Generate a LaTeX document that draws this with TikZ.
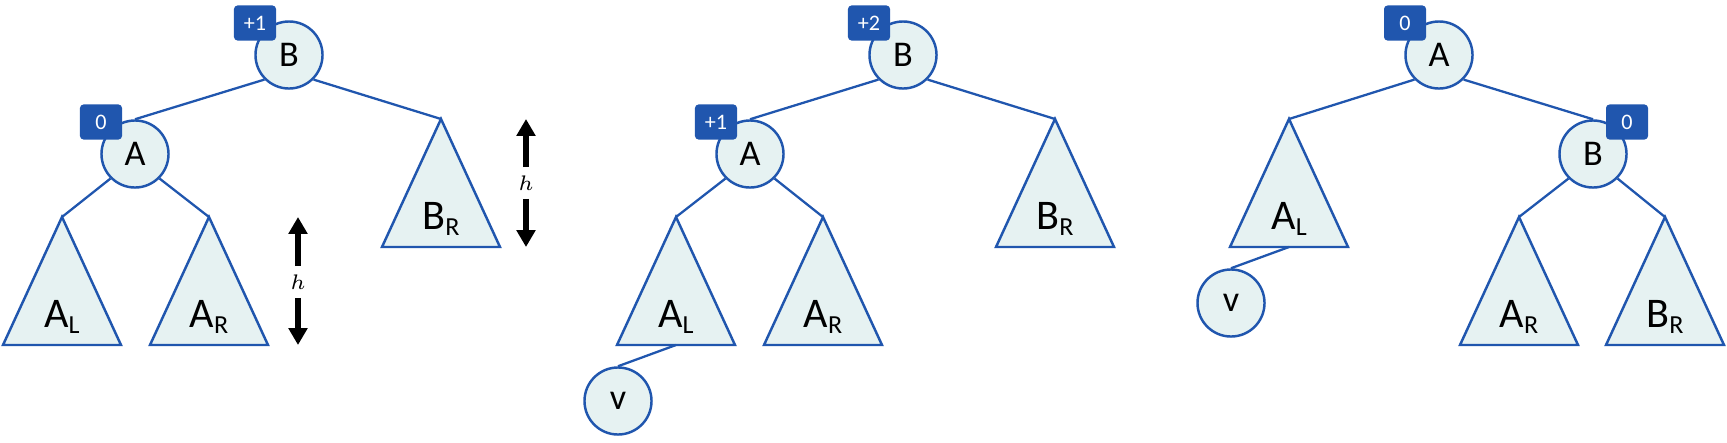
\documentclass[tikz,border=0pt]{standalone}
\usepackage{fontspec}
\setmainfont{Carlito}
\usetikzlibrary{calc,arrows.meta}

\definecolor{blu}{RGB}{32,86,174}
\definecolor{celeste}{RGB}{230,242,242}

\begin{document}
\begin{tikzpicture}[x=0.01cm,y=-0.01cm,
  nodo/.style={circle,draw=blu,fill=celeste,line width=.7pt,minimum size=.67cm,inner sep=0pt,font=\fontsize{10.3}{12}\selectfont},
  bil/.style={rectangle,rounded corners=1pt,fill=blu,text=white,minimum width=.42cm,minimum height=.35cm,inner sep=0pt,font=\fontsize{6.3}{7}\selectfont},
  ramo/.style={draw=blu,line width=.65pt},
  albero/.style={draw=blu,fill=celeste,line width=.7pt},
  sotto/.style={anchor=base,inner sep=0pt,font=\fontsize{12}{14}\selectfont},
  freccia/.style={line width=1.8pt,-{Triangle[width=5.2pt,length=4.8pt]}},
  hlab/.style={inner xsep=0pt,inner ysep=2.2pt,font=\fontsize{6}{7}\selectfont}]

\useasboundingbox (0,0) rectangle (1727,442);
\pgfmathsetmacro{\mezza}{59}
\pgfmathsetmacro{\altez}{128}

% sottoalberi
\foreach \n/\x/\y/\s/\p in {al1/62/217/A/L, ar1/209/217/A/R, br1/441/119/B/R,
    al2/676/217/A/L, ar2/823/217/A/R, br2/1055/119/B/R,
    al3/1289/119/A/L, ar3/1519/217/A/R, br3/1665/217/B/R}{
  \coordinate (\n) at (\x,\y);
  \draw[albero] (\n) -- ++(-\mezza,\altez) -- ++(2*\mezza,0) -- cycle;
  \coordinate (\n-b) at ($(\n)+(0,\altez)$);
  \node[sotto] (\n-l) at ($(\n)+(0,110)$) {\s\raisebox{-1.9pt}{\fontsize{7.4}{8}\selectfont\p}};
}

% prima
\node[nodo] (b1) at (289,55) {B};
\node[nodo] (a1) at (135,154) {A};
\draw[ramo] (b1.south west) -- (a1.north);
\draw[ramo] (b1.south east) -- (br1);
\draw[ramo] (a1.south west) -- (al1);
\draw[ramo] (a1.south east) -- (ar1);
\node[bil] (b1c) at ($(b1)+(-34,-32)$) {+1};
\node[bil] (a1c) at ($(a1)+(-34,-32)$) {0};

\node[hlab] (h1) at (298,282) {$h$};
\coordinate (h1su) at (298,217);
\coordinate (h1giu) at (298,345);
\draw[freccia] (h1.north) -- (h1su);
\draw[freccia] (h1.south) -- (h1giu);

\node[hlab] (h2) at (526,183) {$h$};
\coordinate (h2su) at (526,119);
\coordinate (h2giu) at (526,247);
\draw[freccia] (h2.north) -- (h2su);
\draw[freccia] (h2.south) -- (h2giu);

% seconda
\node[nodo] (b2) at (903,55) {B};
\node[nodo] (a2) at (750,154) {A};
\node[nodo] (v2) at (618,401) {v};
\draw[ramo] (b2.south west) -- (a2.north);
\draw[ramo] (b2.south east) -- (br2);
\draw[ramo] (a2.south west) -- (al2);
\draw[ramo] (a2.south east) -- (ar2);
\draw[ramo] (al2-b) -- (v2.north);
\node[bil] (b2c) at ($(b2)+(-34,-32)$) {+2};
\node[bil] (a2c) at ($(a2)+(-34,-32)$) {+1};

% terza
\node[nodo] (a3) at (1439,55) {A};
\node[nodo] (b3) at (1593,154) {B};
\node[nodo] (v3) at (1231,303) {v};
\draw[ramo] (a3.south west) -- (al3);
\draw[ramo] (a3.south east) -- (b3.north);
\draw[ramo] (b3.south west) -- (ar3);
\draw[ramo] (b3.south east) -- (br3);
\draw[ramo] (al3-b) -- (v3.north);
\node[bil] (a3c) at ($(a3)+(-34,-32)$) {0};
\node[bil] (b3c) at ($(b3)+(34,-32)$) {0};

\end{tikzpicture}
\end{document}
